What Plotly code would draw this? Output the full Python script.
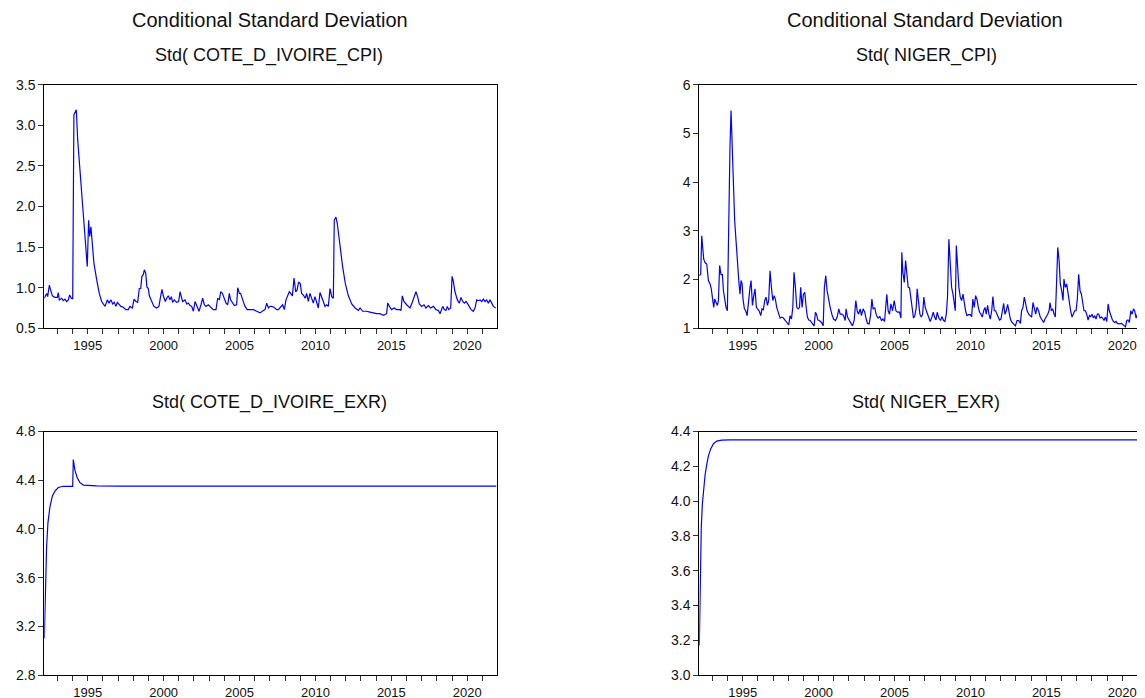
import plotly.graph_objects as go

# ---------------- data ----------------
ci_cpi_dates = [1992.14, 1992.18, 1992.29, 1992.36, 1992.47, 1992.56, 1992.67, 1992.84, 1993.00, 1993.06,
    1993.13, 1993.28, 1993.39, 1993.50, 1993.61, 1993.72, 1993.81, 1993.92, 1994.01, 1994.09,
    1994.18, 1994.25, 1994.34, 1994.49, 1994.67, 1994.82, 1994.97, 1995.06, 1995.13, 1995.21,
    1995.32, 1995.41, 1995.59, 1995.76, 1995.92, 1996.14, 1996.29, 1996.40, 1996.53, 1996.64,
    1996.75, 1996.86, 1996.95, 1997.08, 1997.19, 1997.34, 1997.52, 1997.67, 1997.78, 1997.94,
    1998.05, 1998.18, 1998.29, 1998.40, 1998.49, 1998.57, 1998.66, 1998.73, 1998.82, 1998.90,
    1998.99, 1999.06, 1999.21, 1999.36, 1999.54, 1999.69, 1999.80, 1999.89, 1999.98, 2000.11,
    2000.20, 2000.31, 2000.42, 2000.51, 2000.59, 2000.70, 2000.86, 2000.99, 2001.08, 2001.19,
    2001.25, 2001.41, 2001.52, 2001.63, 2001.74, 2001.85, 2001.96, 2002.07, 2002.18, 2002.33,
    2002.46, 2002.57, 2002.68, 2002.79, 2002.94, 2003.05, 2003.27, 2003.45, 2003.56, 2003.67,
    2003.76, 2003.87, 2003.98, 2004.11, 2004.22, 2004.33, 2004.41, 2004.55, 2004.66, 2004.81,
    2004.88, 2004.99, 2005.07, 2005.21, 2005.36, 2005.51, 2005.69, 2005.91, 2006.13, 2006.35,
    2006.57, 2006.68, 2006.79, 2006.90, 2007.01, 2007.12, 2007.27, 2007.45, 2007.56, 2007.71,
    2007.84, 2007.95, 2008.06, 2008.19, 2008.28, 2008.37, 2008.48, 2008.59, 2008.70, 2008.79,
    2008.89, 2009.00, 2009.09, 2009.20, 2009.33, 2009.42, 2009.53, 2009.64, 2009.75, 2009.86,
    2009.97, 2010.08, 2010.19, 2010.30, 2010.41, 2010.52, 2010.63, 2010.74, 2010.85, 2010.96,
    2011.07, 2011.18, 2011.24, 2011.35, 2011.44, 2011.62, 2011.79, 2011.97, 2012.17, 2012.39,
    2012.61, 2012.83, 2012.94, 2013.11, 2013.37, 2013.59, 2013.81, 2014.03, 2014.25, 2014.47,
    2014.69, 2014.76, 2014.87, 2015.02, 2015.18, 2015.35, 2015.57, 2015.64, 2015.72, 2015.83,
    2016.01, 2016.23, 2016.38, 2016.49, 2016.62, 2016.73, 2016.84, 2017.00, 2017.15, 2017.28,
    2017.44, 2017.59, 2017.77, 2017.94, 2018.10, 2018.21, 2018.38, 2018.49, 2018.60, 2018.69,
    2018.78, 2018.91, 2019.00, 2019.08, 2019.19, 2019.35, 2019.48, 2019.59, 2019.70, 2019.81,
    2019.92, 2020.03, 2020.14, 2020.25, 2020.40, 2020.51, 2020.62, 2020.73, 2020.84, 2020.95,
    2021.06, 2021.17, 2021.28, 2021.39, 2021.50, 2021.61, 2021.72, 2021.87]
ci_cpi_values = [0.87, 0.89, 0.93, 0.89, 1.03, 0.97, 0.90, 0.88, 0.88, 0.94,
    0.85, 0.87, 0.84, 0.86, 0.83, 0.85, 0.91, 0.87, 0.86, 3.13,
    3.17, 3.19, 2.82, 2.49, 2.00, 1.63, 1.26, 1.83, 1.63, 1.75,
    1.46, 1.30, 1.10, 0.93, 0.83, 0.77, 0.85, 0.81, 0.85, 0.80,
    0.82, 0.77, 0.82, 0.79, 0.77, 0.76, 0.73, 0.73, 0.77, 0.75,
    0.86, 0.83, 0.82, 0.99, 0.99, 1.14, 1.16, 1.22, 1.18, 1.01,
    0.99, 0.90, 0.83, 0.77, 0.75, 0.77, 0.89, 0.98, 0.90, 0.83,
    0.87, 0.90, 0.85, 0.89, 0.82, 0.85, 0.82, 0.83, 0.95, 0.89,
    0.83, 0.85, 0.80, 0.81, 0.78, 0.77, 0.71, 0.83, 0.77, 0.71,
    0.79, 0.87, 0.79, 0.77, 0.79, 0.77, 0.73, 0.73, 0.87, 0.85,
    0.95, 0.93, 0.87, 0.81, 0.79, 0.93, 0.85, 0.80, 0.78, 0.79,
    1.00, 0.93, 0.93, 0.85, 0.77, 0.73, 0.73, 0.73, 0.71, 0.69,
    0.72, 0.73, 0.81, 0.75, 0.77, 0.77, 0.76, 0.73, 0.73, 0.76,
    0.79, 0.73, 0.85, 0.91, 0.95, 0.93, 0.90, 1.12, 0.95, 0.97,
    1.07, 1.05, 0.93, 0.91, 0.87, 0.93, 0.83, 0.93, 0.88, 0.81,
    0.89, 0.82, 0.75, 0.94, 0.87, 0.83, 0.77, 0.79, 0.77, 0.99,
    0.89, 0.87, 1.83, 1.87, 1.79, 1.51, 1.26, 1.05, 0.90, 0.80,
    0.75, 0.72, 0.75, 0.71, 0.71, 0.70, 0.69, 0.68, 0.68, 0.66,
    0.68, 0.81, 0.77, 0.73, 0.75, 0.73, 0.73, 0.72, 0.90, 0.83,
    0.79, 0.75, 0.82, 0.87, 0.95, 0.89, 0.80, 0.77, 0.79, 0.75,
    0.78, 0.75, 0.77, 0.73, 0.72, 0.68, 0.77, 0.73, 0.72, 0.77,
    0.73, 0.75, 1.14, 1.08, 0.95, 0.85, 0.81, 0.88, 0.83, 0.81,
    0.83, 0.80, 0.77, 0.73, 0.71, 0.75, 0.85, 0.84, 0.85, 0.83,
    0.86, 0.83, 0.85, 0.81, 0.85, 0.80, 0.77, 0.75]

ne_cpi_dates = [1992.14, 1992.23, 1992.30, 1992.36, 1992.43, 1992.52, 1992.63, 1992.74, 1992.85, 1992.93,
    1993.02, 1993.09, 1993.15, 1993.24, 1993.33, 1993.40, 1993.48, 1993.57, 1993.66, 1993.73,
    1993.81, 1993.90, 1993.99, 1994.08, 1994.16, 1994.23, 1994.30, 1994.38, 1994.47, 1994.56,
    1994.65, 1994.74, 1994.82, 1994.89, 1994.96, 1995.02, 1995.11, 1995.20, 1995.29, 1995.37,
    1995.48, 1995.55, 1995.64, 1995.73, 1995.81, 1995.90, 1995.99, 1996.08, 1996.19, 1996.27,
    1996.36, 1996.45, 1996.54, 1996.63, 1996.71, 1996.80, 1996.89, 1996.98, 1997.07, 1997.15,
    1997.24, 1997.35, 1997.46, 1997.57, 1997.68, 1997.81, 1997.95, 1998.03, 1998.12, 1998.21,
    1998.30, 1998.38, 1998.47, 1998.56, 1998.65, 1998.74, 1998.82, 1998.91, 1999.00, 1999.09,
    1999.18, 1999.26, 1999.35, 1999.44, 1999.53, 1999.62, 1999.70, 1999.79, 1999.86, 1999.95,
    2000.05, 2000.19, 2000.30, 2000.38, 2000.47, 2000.56, 2000.65, 2000.76, 2000.87, 2000.98,
    2001.11, 2001.22, 2001.33, 2001.42, 2001.53, 2001.64, 2001.75, 2001.81, 2001.90, 2002.01,
    2002.12, 2002.23, 2002.34, 2002.45, 2002.54, 2002.63, 2002.74, 2002.82, 2002.93, 2003.04,
    2003.13, 2003.22, 2003.33, 2003.42, 2003.51, 2003.59, 2003.70, 2003.81, 2003.92, 2004.03,
    2004.14, 2004.23, 2004.34, 2004.49, 2004.58, 2004.67, 2004.76, 2004.87, 2004.98, 2005.09,
    2005.20, 2005.33, 2005.42, 2005.48, 2005.55, 2005.64, 2005.73, 2005.81, 2005.90, 2005.99,
    2006.08, 2006.16, 2006.25, 2006.34, 2006.43, 2006.49, 2006.58, 2006.67, 2006.76, 2006.85,
    2006.93, 2007.02, 2007.13, 2007.24, 2007.35, 2007.46, 2007.55, 2007.64, 2007.73, 2007.81,
    2007.92, 2008.03, 2008.12, 2008.23, 2008.32, 2008.41, 2008.49, 2008.58, 2008.67, 2008.76,
    2008.85, 2008.93, 2009.00, 2009.07, 2009.15, 2009.24, 2009.33, 2009.42, 2009.51, 2009.59,
    2009.68, 2009.77, 2009.88, 2009.99, 2010.08, 2010.16, 2010.25, 2010.34, 2010.43, 2010.52,
    2010.60, 2010.69, 2010.78, 2010.87, 2010.96, 2011.04, 2011.13, 2011.22, 2011.31, 2011.40,
    2011.48, 2011.57, 2011.66, 2011.75, 2011.84, 2011.92, 2012.01, 2012.10, 2012.19, 2012.27,
    2012.36, 2012.45, 2012.54, 2012.63, 2012.74, 2012.85, 2012.96, 2013.07, 2013.18, 2013.29,
    2013.37, 2013.46, 2013.55, 2013.64, 2013.73, 2013.84, 2013.95, 2014.03, 2014.12, 2014.21,
    2014.30, 2014.38, 2014.49, 2014.60, 2014.71, 2014.82, 2014.91, 2015.00, 2015.09, 2015.18,
    2015.24, 2015.33, 2015.42, 2015.51, 2015.59, 2015.68, 2015.75, 2015.84, 2015.92, 2016.01,
    2016.10, 2016.16, 2016.25, 2016.34, 2016.43, 2016.52, 2016.60, 2016.69, 2016.78, 2016.87,
    2016.96, 2017.04, 2017.13, 2017.22, 2017.31, 2017.40, 2017.48, 2017.57, 2017.66, 2017.75,
    2017.84, 2017.92, 2018.01, 2018.10, 2018.19, 2018.27, 2018.36, 2018.45, 2018.54, 2018.63,
    2018.71, 2018.80, 2018.89, 2018.98, 2019.07, 2019.15, 2019.24, 2019.33, 2019.42, 2019.51,
    2019.59, 2019.68, 2019.77, 2019.86, 2019.95, 2020.03, 2020.12, 2020.21, 2020.30, 2020.38,
    2020.47, 2020.56, 2020.65, 2020.74, 2020.82, 2020.91, 2021.00, 2021.09, 2021.18, 2021.26,
    2021.35, 2021.44, 2021.53, 2021.62, 2021.75, 2021.87]
ne_cpi_values = [2.08, 2.11, 2.90, 2.66, 2.42, 2.35, 2.32, 1.98, 1.91, 1.81,
    1.53, 1.43, 1.60, 1.53, 1.47, 1.57, 2.29, 2.10, 2.10, 1.77,
    1.60, 1.43, 1.36, 3.35, 4.71, 5.47, 4.71, 3.82, 3.21, 2.80,
    2.25, 1.98, 1.70, 1.98, 1.91, 1.60, 1.40, 1.36, 1.26, 1.57,
    1.84, 1.98, 1.47, 1.67, 1.81, 1.43, 1.40, 1.36, 1.26, 1.40,
    1.38, 1.57, 1.64, 1.47, 1.57, 2.18, 1.84, 1.57, 1.67, 1.60,
    1.43, 1.29, 1.21, 1.23, 1.21, 1.16, 1.09, 1.07, 1.26, 1.19,
    1.43, 2.15, 1.84, 1.43, 1.40, 1.43, 1.84, 1.43, 1.70, 1.74,
    1.43, 1.23, 1.17, 1.16, 1.12, 1.09, 1.05, 1.33, 1.29, 1.17,
    1.16, 1.12, 1.05, 1.84, 2.08, 1.77, 1.57, 1.43, 1.29, 1.19,
    1.16, 1.23, 1.40, 1.29, 1.29, 1.26, 1.16, 1.40, 1.23, 1.16,
    1.10, 1.05, 1.16, 1.57, 1.36, 1.29, 1.40, 1.26, 1.40, 1.33,
    1.19, 1.10, 1.09, 1.26, 1.60, 1.40, 1.42, 1.26, 1.21, 1.24,
    1.16, 1.19, 1.14, 1.70, 1.36, 1.29, 1.50, 1.36, 1.57, 1.36,
    1.33, 1.33, 1.21, 2.56, 2.15, 1.94, 2.39, 2.11, 1.84, 1.83,
    1.57, 1.36, 1.21, 1.26, 1.43, 1.81, 1.57, 1.29, 1.23, 1.29,
    1.64, 1.43, 1.33, 1.23, 1.14, 1.23, 1.33, 1.23, 1.17, 1.33,
    1.21, 1.16, 1.24, 1.16, 1.14, 1.29, 1.64, 2.83, 2.39, 1.84,
    1.70, 1.50, 1.36, 2.70, 2.25, 1.84, 1.64, 1.57, 1.70, 1.53,
    1.36, 1.26, 1.28, 1.28, 1.24, 1.60, 1.43, 1.67, 1.60, 1.43,
    1.33, 1.29, 1.23, 1.36, 1.43, 1.29, 1.47, 1.29, 1.19, 1.36,
    1.65, 1.36, 1.36, 1.29, 1.23, 1.17, 1.19, 1.38, 1.51, 1.29,
    1.36, 1.49, 1.29, 1.19, 1.12, 1.09, 1.05, 1.16, 1.16, 1.10,
    1.36, 1.43, 1.64, 1.50, 1.36, 1.29, 1.26, 1.23, 1.53, 1.43,
    1.29, 1.43, 1.36, 1.23, 1.16, 1.12, 1.19, 1.23, 1.29, 1.36,
    1.53, 1.36, 1.40, 1.29, 1.23, 1.98, 2.66, 2.39, 1.91, 1.77,
    1.57, 2.01, 1.84, 1.91, 1.70, 1.50, 1.36, 1.23, 1.29, 1.36,
    1.36, 1.60, 2.11, 1.77, 1.70, 1.50, 1.36, 1.36, 1.29, 1.17,
    1.26, 1.24, 1.29, 1.21, 1.26, 1.19, 1.29, 1.29, 1.21, 1.23,
    1.21, 1.16, 1.23, 1.14, 1.50, 1.36, 1.26, 1.19, 1.14, 1.12,
    1.14, 1.10, 1.09, 1.09, 1.10, 1.08, 1.05, 1.03, 1.16, 1.17,
    1.12, 1.36, 1.29, 1.40, 1.36, 1.21, 1.29, 1.26, 1.19, 1.14,
    1.12, 1.19, 1.26, 1.22, 1.25, 1.22]

ci_exr_dates = [1992.14, 1992.21, 1992.29, 1992.38, 1992.51, 1992.67, 1992.84, 1993.06, 1993.39, 1993.72,
    1994.01, 1994.05, 1994.16, 1994.31, 1994.49, 1994.71, 1995.04, 1995.59, 1997.00, 2000.00,
    2005.00, 2010.00, 2015.00, 2020.00, 2021.92]
ci_exr_values = [3.10, 3.53, 3.85, 4.05, 4.18, 4.27, 4.31, 4.34, 4.35, 4.35,
    4.35, 4.57, 4.48, 4.42, 4.38, 4.36, 4.356, 4.353, 4.352, 4.352,
    4.352, 4.352, 4.352, 4.352, 4.352]

ne_exr_dates = [1992.14, 1992.21, 1992.27, 1992.34, 1992.43, 1992.52, 1992.63, 1992.74, 1992.89, 1993.07,
    1993.29, 1993.62, 1994.16, 2000.00, 2005.00, 2010.00, 2015.00, 2020.00, 2021.92]
ne_exr_values = [3.17, 3.60, 3.85, 3.98, 4.08, 4.15, 4.21, 4.26, 4.30, 4.33,
    4.345, 4.35, 4.352, 4.352, 4.352, 4.352, 4.352, 4.352, 4.352]

main_title = "Conditional Standard Deviation"
panel_titles = ["Std( COTE_D_IVOIRE_CPI)", "Std( NIGER_CPI)",
                "Std( COTE_D_IVOIRE_EXR)", "Std( NIGER_EXR)"]

year_ticks = list(range(1993, 2022))
year_labels = [str(y) if y % 5 == 0 else "" for y in year_ticks]

# ---------------- figure ----------------
W, H = 1145, 698
OFF = 8  # page body margin in the browser
FONT = "Arial, 'Liberation Sans', sans-serif"
TXT = "#111111"
BLUE = "#0000FF"


def fx(px):
    return (px - OFF) / W


def fy(py):
    return 1 - (py - OFF) / H


fig = go.Figure()

xl = [fx(44.3), fx(496.7)]
xr = [fx(699.3), fx(1151.7)]
yt = [fy(328.3), fy(84.7)]
yb = [fy(675.0), fy(431.5)]

panels = [
    dict(x=ci_cpi_dates, y=ci_cpi_values, xd=xl, yd=yt, yr=[0.5, 3.5], dt=0.5, fmt=".1f"),
    dict(x=ne_cpi_dates, y=ne_cpi_values, xd=xr, yd=yt, yr=[1, 6], dt=1, fmt="d"),
    dict(x=ci_exr_dates, y=ci_exr_values, xd=xl, yd=yb, yr=[2.8, 4.8], dt=0.4, fmt=".1f"),
    dict(x=ne_exr_dates, y=ne_exr_values, xd=xr, yd=yb, yr=[3.0, 4.4], dt=0.2, fmt=".1f"),
]

layout_axes = {}
for i, p in enumerate(panels):
    n = "" if i == 0 else str(i + 1)
    fig.add_trace(go.Scatter(x=p["x"], y=p["y"], xaxis="x" + n, yaxis="y" + n,
                             mode="lines", line=dict(color=BLUE, width=1.2),
                             showlegend=False, hoverinfo="skip"))
    layout_axes["xaxis" + n] = dict(
        domain=p["xd"], anchor="y" + n, range=[1992.14, 2021.94], automargin=False,
        tickmode="array", tickvals=year_ticks, ticktext=year_labels,
        ticks="outside", ticklen=5, tickwidth=1, tickcolor="#333333",
        showline=True, linecolor="#000000", linewidth=1, mirror=True,
        showgrid=False, zeroline=False,
        tickfont=dict(family=FONT, size=13, color=TXT), fixedrange=True)
    layout_axes["yaxis" + n] = dict(
        domain=p["yd"], anchor="x" + n, range=p["yr"], automargin=False,
        tick0=p["yr"][0], dtick=p["dt"], tickformat=p["fmt"],
        ticks="outside", ticklen=5, tickwidth=1, tickcolor="#333333",
        showline=True, linecolor="#000000", linewidth=1, mirror=True,
        showgrid=False, zeroline=False,
        tickfont=dict(family=FONT, size=14, color=TXT), fixedrange=True)

annotations = []
for cx in (fx(270), fx(925)):
    annotations.append(dict(text=main_title, x=cx, y=fy(20), xref="paper", yref="paper",
                            xanchor="center", yanchor="middle", showarrow=False,
                            font=dict(family=FONT, size=20, color=TXT)))
subpos = [(fx(269), fy(56)), (fx(926), fy(56)), (fx(269), fy(402.5)), (fx(926), fy(402.5))]
for t, (sx, sy) in zip(panel_titles, subpos):
    annotations.append(dict(text=t, x=sx, y=sy, xref="paper", yref="paper",
                            xanchor="center", yanchor="middle", showarrow=False,
                            font=dict(family=FONT, size=18, color=TXT)))

fig.update_layout(width=W, height=H, margin=dict(l=0, r=0, t=0, b=0, autoexpand=False),
                  paper_bgcolor="white", plot_bgcolor="white",
                  annotations=annotations, **layout_axes)

fig.write_html("out.html", config={"displayModeBar": False})
